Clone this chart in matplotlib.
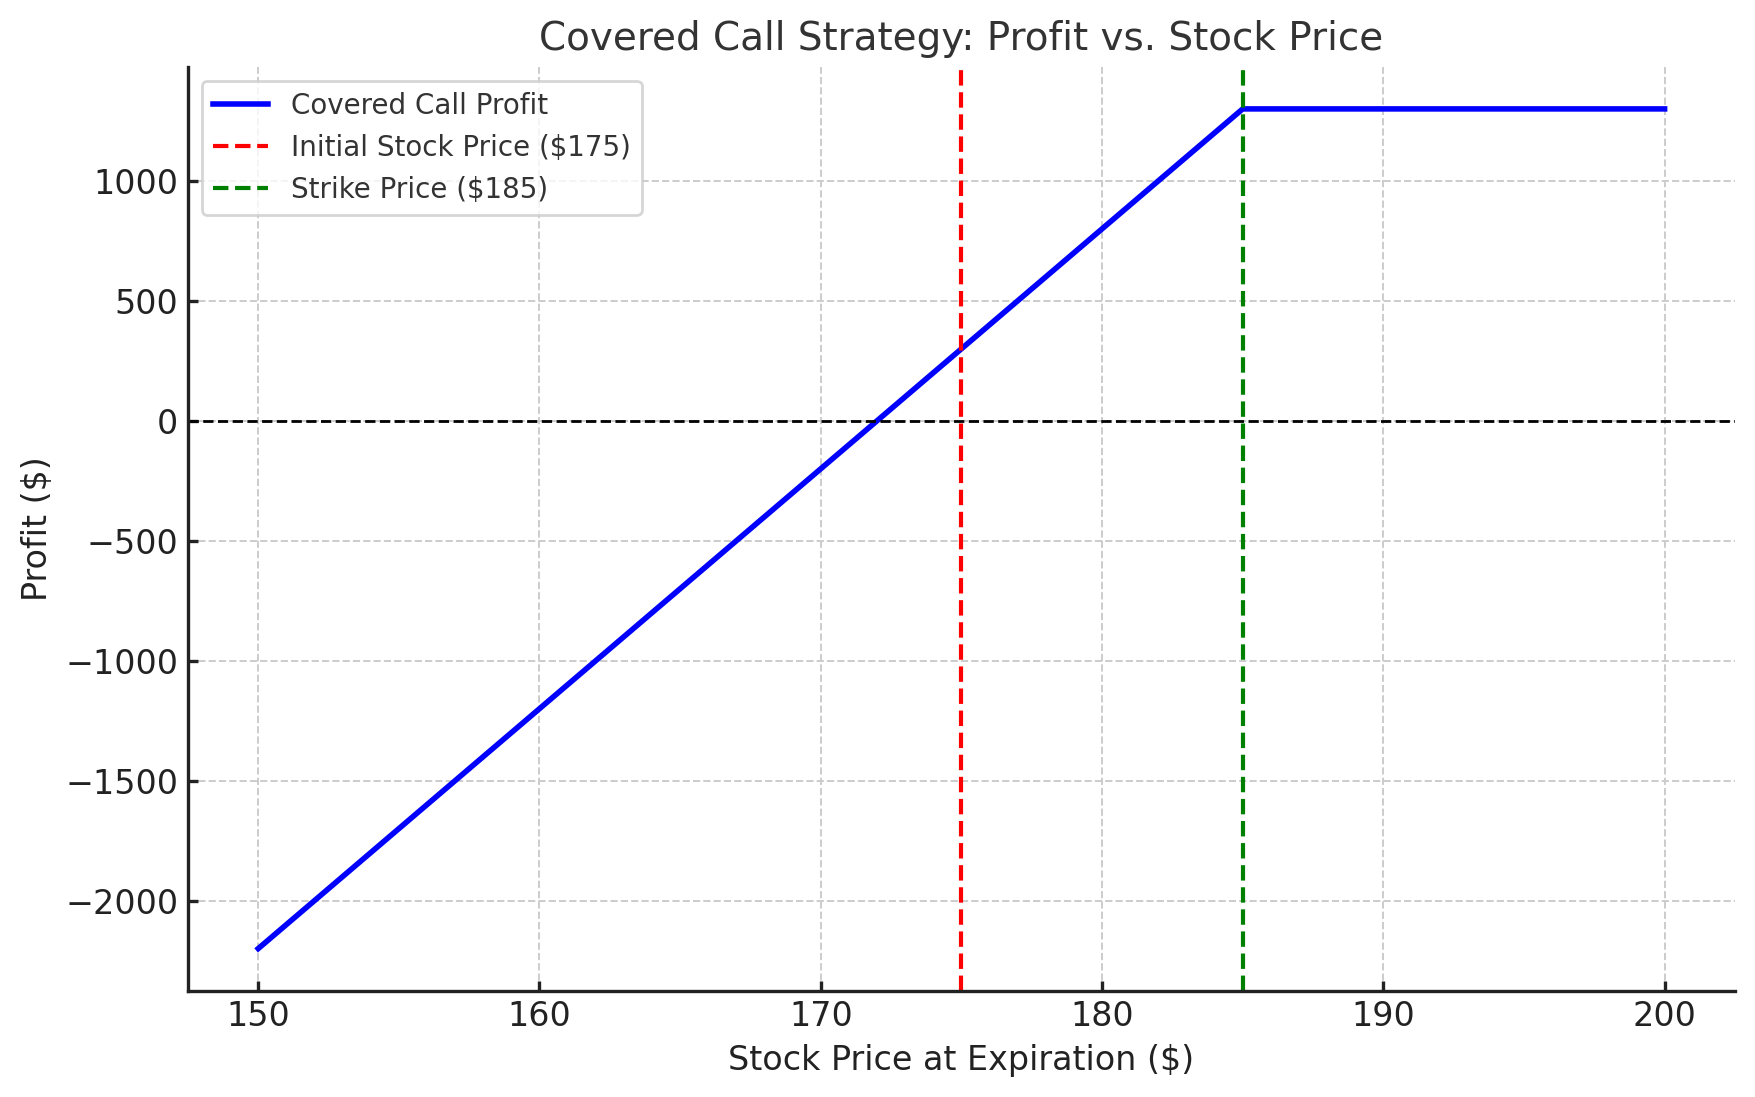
import numpy as np
import matplotlib
matplotlib.use("Agg")
import matplotlib.pyplot as plt

# Data
stock_prices = [150, 185, 200]
profits = [-2200, 1300, 1300]
initial_price = 175
strike_price = 185
x_ticks = [150, 160, 170, 180, 190, 200]
y_ticks = [-2000, -1500, -1000, -500, 0, 500, 1000]

plt.rcParams['font.family'] = ['DejaVu Sans']
fig, ax = plt.subplots(figsize=(8.78, 5.485), dpi=200)

ax.plot(stock_prices, profits, color='blue', linewidth=2, label='Covered Call Profit')
ax.axhline(0, color='black', linestyle='--', linewidth=1)
ax.axvline(initial_price, color='red', linestyle='--', linewidth=1.5,
           label=f'Initial Stock Price (${initial_price})')
ax.axvline(strike_price, color='green', linestyle='--', linewidth=1.5,
           label=f'Strike Price (${strike_price})')

ax.set_xticks(x_ticks)
ax.set_yticks(y_ticks)
ax.set_title('Covered Call Strategy: Profit vs. Stock Price', fontsize=14, color='#333333')
ax.set_xlabel('Stock Price at Expiration ($)', fontsize=12, color='#222222')
ax.set_ylabel('Profit ($)', fontsize=12, color='#222222')
ax.tick_params(labelsize=12, colors='#222222', direction='in', width=1.2)
ax.grid(True, linestyle='--', color='#cccccc', linewidth=0.7)
ax.spines['top'].set_visible(False)
ax.spines['right'].set_visible(False)
for s in ['left', 'bottom']:
    ax.spines[s].set_linewidth(1.2)
    ax.spines[s].set_color('#222222')
leg = ax.legend(loc='upper left', fontsize=10)
for t in leg.get_texts():
    t.set_color('#333333')

fig.subplots_adjust(left=0.107, right=0.988, top=0.939, bottom=0.097)
fig.savefig('out.png', dpi=200)
